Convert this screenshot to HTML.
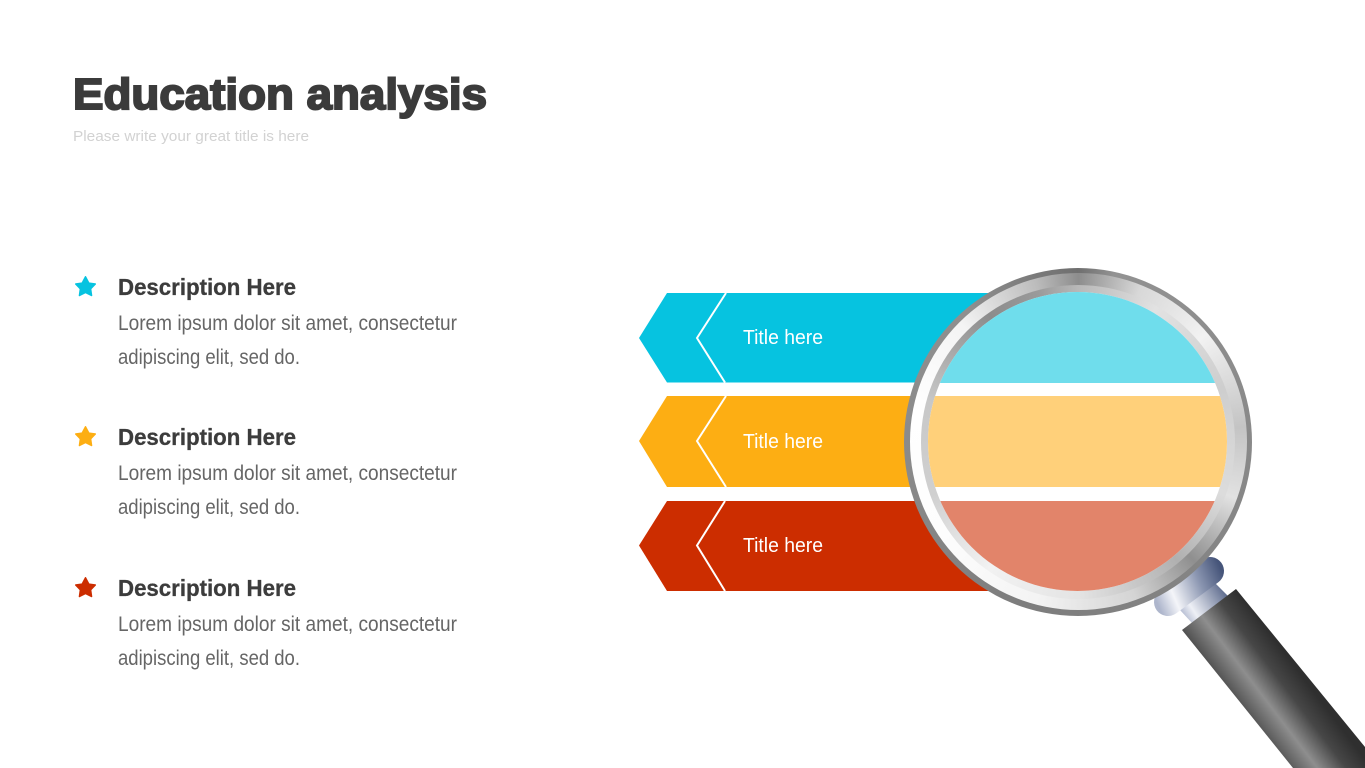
<!DOCTYPE html>
<html lang="en">
<head>
<meta charset="utf-8">
<title>Education analysis</title>
<style>
html,body{margin:0;padding:0;background:#fff;width:1365px;height:768px;overflow:hidden}
svg.l{position:absolute;left:0;top:0}
.c{position:absolute;border-radius:50%}
text{font-family:"Liberation Sans",sans-serif}
.h{font-size:23px;font-weight:700;fill:#3c3c3c;stroke:#3c3c3c;stroke-width:.3px}
.b{font-size:21px;fill:#666}
.t{font-size:20px;fill:#fff}
.band{position:absolute;left:0;width:100%}
</style>
</head>
<body>
<svg class="l" width="1365" height="768" viewBox="0 0 1365 768">
<defs>
<linearGradient id="hg" gradientUnits="userSpaceOnUse" x1="1182" y1="630" x2="1236" y2="589">
<stop offset="0" stop-color="#505050"/><stop offset=".36" stop-color="#8e8e8e"/><stop offset=".7" stop-color="#474747"/><stop offset="1" stop-color="#2f2f2f"/>
</linearGradient>
<linearGradient id="cg" gradientUnits="userSpaceOnUse" x1="1156" y1="600" x2="1222" y2="572">
<stop offset="0" stop-color="#aeb6cc"/><stop offset=".25" stop-color="#f4f5f9"/><stop offset=".65" stop-color="#8c97b2"/><stop offset="1" stop-color="#46557a"/>
</linearGradient>
<linearGradient id="ng" gradientUnits="userSpaceOnUse" x1="1180" y1="615" x2="1226" y2="585">
<stop offset="0" stop-color="#a9b2ca"/><stop offset=".25" stop-color="#eef0f6"/><stop offset="1" stop-color="#4e5d82"/>
</linearGradient>
</defs>

<text x="73" y="109" font-size="44" font-weight="700" fill="#3b3b3b" stroke="#3b3b3b" stroke-width="2" textLength="414" lengthAdjust="spacingAndGlyphs">Education analysis</text>
<text x="73" y="141" font-size="15" fill="#d2d2d2" textLength="236" lengthAdjust="spacingAndGlyphs">Please write your great title is here</text>

<polygon transform="translate(85.5,287) scale(.85)" fill="#06c3e0" stroke="#06c3e0" stroke-width="1.8" stroke-linejoin="round" points="0,-12 3.9,-4.6 11.5,-3.5 6,2.2 7.1,10 0,6.4 -7.1,10 -6,2.2 -11.5,-3.5 -3.9,-4.6"/>
<text class="h" x="118" y="295" textLength="178" lengthAdjust="spacingAndGlyphs">Description Here</text>
<text class="b" x="118" y="330" textLength="339" lengthAdjust="spacingAndGlyphs">Lorem ipsum dolor sit amet, consectetur</text>
<text class="b" x="118" y="364" textLength="182" lengthAdjust="spacingAndGlyphs">adipiscing elit, sed do.</text>

<polygon transform="translate(85.5,437) scale(.85)" fill="#fdae13" stroke="#fdae13" stroke-width="1.8" stroke-linejoin="round" points="0,-12 3.9,-4.6 11.5,-3.5 6,2.2 7.1,10 0,6.4 -7.1,10 -6,2.2 -11.5,-3.5 -3.9,-4.6"/>
<text class="h" x="118" y="445" textLength="178" lengthAdjust="spacingAndGlyphs">Description Here</text>
<text class="b" x="118" y="480" textLength="339" lengthAdjust="spacingAndGlyphs">Lorem ipsum dolor sit amet, consectetur</text>
<text class="b" x="118" y="514" textLength="182" lengthAdjust="spacingAndGlyphs">adipiscing elit, sed do.</text>

<polygon transform="translate(85.5,588) scale(.85)" fill="#cc2d00" stroke="#cc2d00" stroke-width="1.8" stroke-linejoin="round" points="0,-12 3.9,-4.6 11.5,-3.5 6,2.2 7.1,10 0,6.4 -7.1,10 -6,2.2 -11.5,-3.5 -3.9,-4.6"/>
<text class="h" x="118" y="596" textLength="178" lengthAdjust="spacingAndGlyphs">Description Here</text>
<text class="b" x="118" y="631" textLength="339" lengthAdjust="spacingAndGlyphs">Lorem ipsum dolor sit amet, consectetur</text>
<text class="b" x="118" y="665" textLength="182" lengthAdjust="spacingAndGlyphs">adipiscing elit, sed do.</text>

<polygon fill="#06c3e0" points="639,338 667,293 1020,293 1020,382.5 667,382.5"/>
<polyline fill="none" stroke="#fff" stroke-width="2" points="726,293 697,338 725,382.5"/>
<text class="t" x="743" y="344" textLength="80" lengthAdjust="spacingAndGlyphs">Title here</text>

<polygon fill="#fdae13" points="639,441 667,396 1020,396 1020,487 667,487"/>
<polyline fill="none" stroke="#fff" stroke-width="2" points="726,396 697,441 726,487"/>
<text class="t" x="743" y="448" textLength="80" lengthAdjust="spacingAndGlyphs">Title here</text>

<polygon fill="#cc2d00" points="639,545.5 667,501 1020,501 1020,591 667,591"/>
<polyline fill="none" stroke="#fff" stroke-width="2" points="725,501 697,545.5 725,591"/>
<text class="t" x="743" y="552" textLength="80" lengthAdjust="spacingAndGlyphs">Title here</text>

<polygon fill="url(#ng)" points="1180,610 1215,583 1228,596 1192,623"/>
<line x1="1168" y1="602" x2="1210" y2="571" stroke="url(#cg)" stroke-width="28" stroke-linecap="round"/>
<polygon fill="url(#hg)" points="1182,630 1236,589 1365,747 1365,768 1293,768"/>
</svg>

<div class="c" style="left:904px;top:268px;width:348px;height:348px;background:conic-gradient(from 0deg,#6f6f6f 0deg,#929292 12deg,#8c8c8c 60deg,#858585 130deg,#7d7d7d 200deg,#8a8a8a 260deg,#8f8f8f 320deg,#6f6f6f 360deg)"></div>
<div class="c" style="left:910px;top:273px;width:337px;height:337px;background:conic-gradient(from 0deg,#8d8d8d 0deg,#d8d8d8 22deg,#f2f2f2 50deg,#c4c4c4 85deg,#e2e2e2 110deg,#8f8f8f 136deg,#d4d4d4 160deg,#f4f4f4 195deg,#fdfdfd 235deg,#ffffff 280deg,#f4f4f4 315deg,#bcbcbc 345deg,#8d8d8d 360deg)"></div>
<div class="c" style="left:921px;top:285px;width:314px;height:314px;background:conic-gradient(from 0deg,#b8b8b8 0deg,#e2e2e2 30deg,#cecece 70deg,#dcdcdc 110deg,#b0b0b0 140deg,#e4e4e4 180deg,#f2f2f2 215deg,#d0d0d0 250deg,#c8c8c8 285deg,#8c8c8c 325deg,#9a9a9a 345deg,#b8b8b8 360deg)"></div>
<div class="c" style="left:928px;top:292px;width:299px;height:299px;background:#fff;overflow:hidden">
  <div class="band" style="top:0;height:90.5px;background:#6fddec"></div>
  <div class="band" style="top:104px;height:91px;background:#ffd07a"></div>
  <div class="band" style="top:209px;height:90px;background:#e2846a"></div>
</div>
</body>
</html>
